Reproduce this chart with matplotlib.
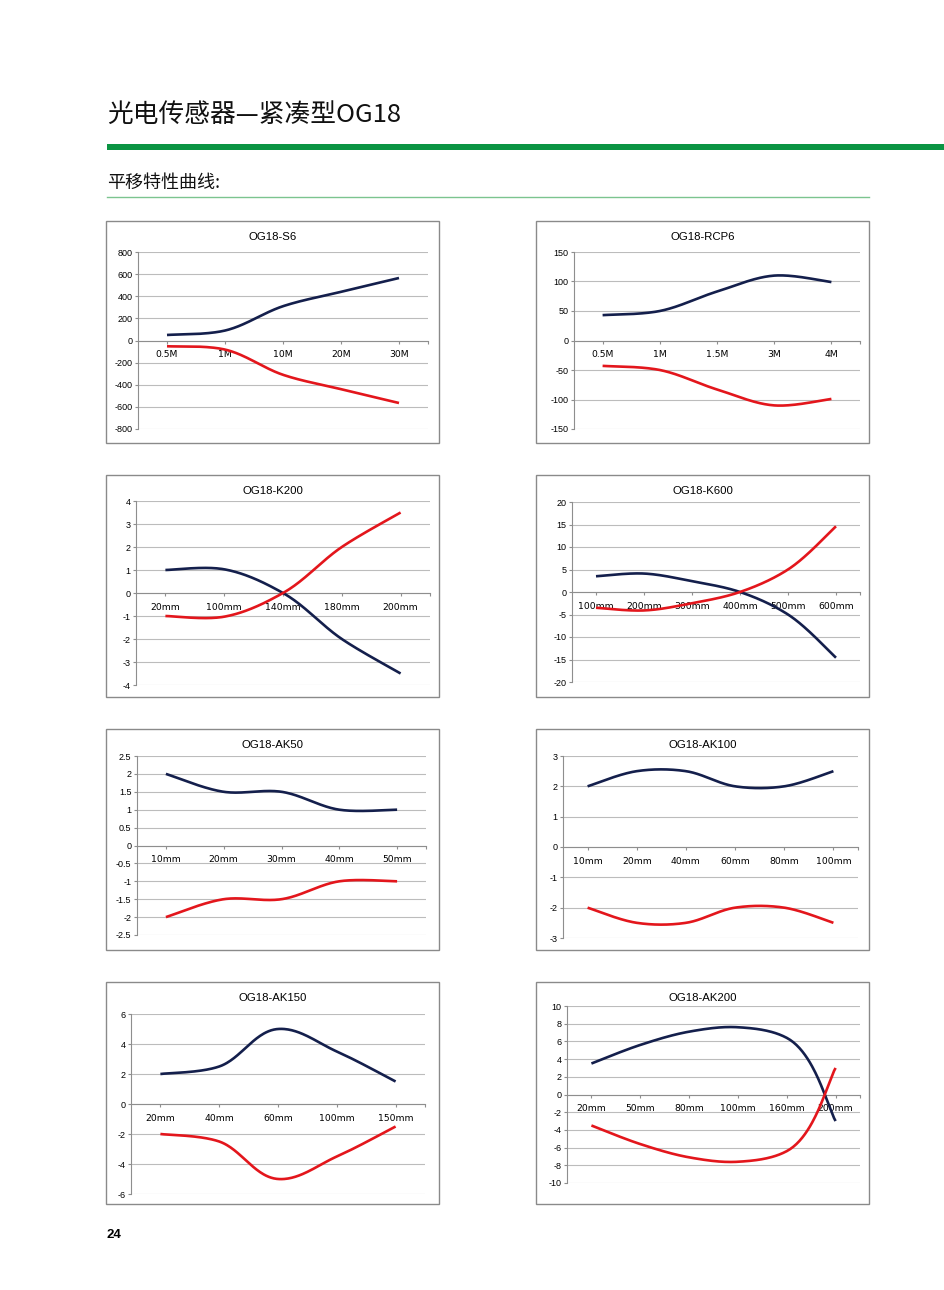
import numpy as np
import matplotlib.pyplot as plt
from matplotlib.patches import Rectangle
from matplotlib.ticker import FuncFormatter, FixedLocator

W, H = 945, 1290

# ---- data (blue = navy line, red = red line) ----
s6_cats = ['0.5M', '1M', '10M', '20M', '30M']
s6_blue = [50, 90, 310, 440, 565]
s6_red = [-52, -82, -310, -440, -565]

rcp6_cats = ['0.5M', '1M', '1.5M', '3M', '4M']
rcp6_blue = [43, 50, 83, 110, 99]
rcp6_red = [-43, -50, -83, -110, -99]

k200_cats = ['20mm', '100mm', '140mm', '180mm', '200mm']
k200_blue = [1, 1.03, 0, -2, -3.5]
k200_red = [-1, -1.03, 0, 2, 3.5]

k600_cats = ['100mm', '200mm', '300mm', '400mm', '500mm', '600mm']
k600_blue = [3.5, 4.1, 2.4, 0, -5, -14.6]
k600_red = [-3.5, -4.1, -2.5, 0, 5, 14.6]

ak50_cats = ['10mm', '20mm', '30mm', '40mm', '50mm']
ak50_blue = [2, 1.5, 1.5, 1, 1]
ak50_red = [-2, -1.5, -1.5, -1, -1]

ak100_cats = ['10mm', '20mm', '40mm', '60mm', '80mm', '100mm']
ak100_blue = [2, 2.5, 2.5, 2, 2, 2.5]
ak100_red = [-2, -2.5, -2.5, -2, -2, -2.5]

ak150_cats = ['20mm', '40mm', '60mm', '100mm', '150mm']
ak150_blue = [2, 2.5, 5, 3.5, 1.5]
ak150_red = [-2, -2.5, -5, -3.5, -1.5]

ak200_cats = ['20mm', '50mm', '80mm', '100mm', '160mm', '200mm']
ak200_blue = [3.5, 5.6, 7.1, 7.6, 6.4, -3]
ak200_red = [-3.5, -5.6, -7.1, -7.6, -6.4, 3]

BLUE = '#141f4c'
RED = '#e3161c'
GRID = '#bcbcbc'
AXC = '#8e8e8e'


def smooth(xs, ys, sx, sy, n=50):
    # smoothed line through the points: Bezier segments, tangents weighted
    # toward the shorter neighbouring chord (worked out in pixel space)
    q = np.column_stack([np.asarray(xs) * sx, np.asarray(ys) * sy]).astype(float)
    m = len(q)
    tang = np.zeros_like(q)
    for i in range(m):
        if i == 0:
            v = q[1] - q[0]
        elif i == m - 1:
            v = q[-1] - q[-2]
        else:
            a = q[i] - q[i - 1]
            b = q[i + 1] - q[i]
            la, lb = np.hypot(*a), np.hypot(*b)
            v = a / la * lb + b / lb * la
        tang[i] = v / np.hypot(*v)
    out = []
    t = np.linspace(0, 1, n)[:, None]
    for i in range(m - 1):
        p1, p2 = q[i], q[i + 1]
        d = np.hypot(*(p2 - p1))
        k1 = d / 6 if i == 0 else d / 3
        k2 = d / 6 if i + 1 == m - 1 else d / 3
        c1 = p1 + tang[i] * k1
        c2 = p2 - tang[i + 1] * k2
        seg = ((1 - t) ** 3) * p1 + 3 * ((1 - t) ** 2) * t * c1 + 3 * (1 - t) * t ** 2 * c2 + t ** 3 * p2
        out.append(seg)
    out = np.vstack(out)
    return out[:, 0] / sx, out[:, 1] / sy


def fmt(v, pos):
    return '%g' % round(v, 3)


fig = plt.figure(figsize=(W / 100, H / 100), dpi=100)


def px_axes(x0, y0, x1, y1):
    return fig.add_axes([x0 / W, 1 - y1 / H, (x1 - x0) / W, (y1 - y0) / H])


# header
fig.text(107 / W, 1 - 115 / H, '光电传感器—紧凑型OG18', family=['Noto Sans CJK SC', 'DejaVu Sans'],
         fontsize=18.5, va='center', ha='left', color='#111111')
fig.add_artist(Rectangle((107 / W, 1 - 150 / H), (W - 107) / W, 6 / H, transform=fig.transFigure,
                         color='#0b9443', lw=0))
fig.text(107 / W, 1 - 183 / H, '平移特性曲线:', family=['Noto Sans CJK SC', 'DejaVu Sans'],
         fontsize=13, va='center', ha='left', color='#111111')
fig.add_artist(plt.Line2D([107 / W, 869 / W], [1 - 197 / H, 1 - 197 / H], transform=fig.transFigure,
                          color='#7cc48f', lw=1))
fig.text(107 / W, 1 - 1235 / H, '24', fontsize=9.5, fontweight='bold', va='center', ha='left',
         family='Liberation Sans')

# panel frame, plot area (pixels), title, categories, series, y ticks
panels = [
    ((106, 221, 439, 443), (138, 252, 428, 429), 'OG18-S6', s6_cats, s6_blue, s6_red, np.arange(-800, 801, 200)),
    ((536, 221, 869, 443), (574, 252, 860, 429), 'OG18-RCP6', rcp6_cats, rcp6_blue, rcp6_red, np.arange(-150, 151, 50)),
    ((106, 475, 439, 697), (136, 501, 430, 685), 'OG18-K200', k200_cats, k200_blue, k200_red, np.arange(-4, 5, 1)),
    ((536, 475, 869, 697), (572, 502, 860, 682), 'OG18-K600', k600_cats, k600_blue, k600_red, np.arange(-20, 21, 5)),
    ((106, 729, 439, 950), (137, 756, 426, 935), 'OG18-AK50', ak50_cats, ak50_blue, ak50_red, np.arange(-2.5, 2.51, 0.5)),
    ((536, 729, 869, 950), (563, 756, 858, 938), 'OG18-AK100', ak100_cats, ak100_blue, ak100_red, np.arange(-3, 4, 1)),
    ((106, 982, 439, 1204), (131, 1014, 425, 1194), 'OG18-AK150', ak150_cats, ak150_blue, ak150_red, np.arange(-6, 7, 2)),
    ((536, 982, 869, 1204), (567, 1006, 860, 1183), 'OG18-AK200', ak200_cats, ak200_blue, ak200_red, np.arange(-10, 11, 2)),
]

for frame, area, title, cats, blue, red, yt in panels:
    fx0, fy0, fx1, fy1 = frame
    fig.add_artist(Rectangle((fx0 / W, 1 - fy1 / H), (fx1 - fx0) / W, (fy1 - fy0) / H,
                             transform=fig.transFigure, fill=False, ec='#8a8a8a', lw=1))
    fig.text((fx0 + fx1) / 2 / W, 1 - (fy0 + 16) / H, title, ha='center', va='center',
             fontsize=8.2, family='Liberation Sans')

    ax = px_axes(*area)
    n = len(cats)
    xs = np.arange(n) + 0.5
    sx = (area[2] - area[0]) / n
    sy = (area[3] - area[1]) / (yt[-1] - yt[0])
    bx, by = smooth(xs, blue, sx, sy)
    rx, ry = smooth(xs, red, sx, sy)
    ax.plot(bx, by, color=BLUE, lw=1.9, solid_capstyle='butt', zorder=3)
    ax.plot(rx, ry, color=RED, lw=1.9, solid_capstyle='butt', zorder=3)

    ax.set_xlim(0, n)
    ax.set_ylim(yt[0], yt[-1])
    ax.set_yticks(yt)
    ax.yaxis.set_major_formatter(FuncFormatter(fmt))
    ax.yaxis.grid(True, color=GRID, lw=0.8)
    ax.set_axisbelow(True)

    # tick marks sit under the category labels, plus one at the axis end
    ax.set_xticks(xs)
    ax.set_xticklabels(cats)
    ax.xaxis.set_minor_locator(FixedLocator([n]))
    ax.tick_params(axis='x', which='both', length=2.5, color=AXC, width=0.8, direction='out')
    ax.tick_params(axis='x', which='major', pad=4.5, labelsize=6.7)
    ax.tick_params(axis='y', length=2.5, color=AXC, width=0.8, pad=1.5, labelsize=6.5)
    for lab in ax.get_xticklabels():
        lab.set_family('Lato')
        lab.set_fontweight('bold')
        lab.set_fontsize(6.7)
    for lab in ax.get_yticklabels():
        lab.set_family('Liberation Sans')

    for s in ['top', 'right']:
        ax.spines[s].set_visible(False)
    ax.spines['bottom'].set_position(('data', 0))
    ax.spines['bottom'].set_color(AXC)
    ax.spines['left'].set_color(AXC)
    ax.spines['bottom'].set_linewidth(0.8)
    ax.spines['left'].set_linewidth(0.8)
    ax.patch.set_alpha(0)

fig.savefig('out.png', dpi=100)
